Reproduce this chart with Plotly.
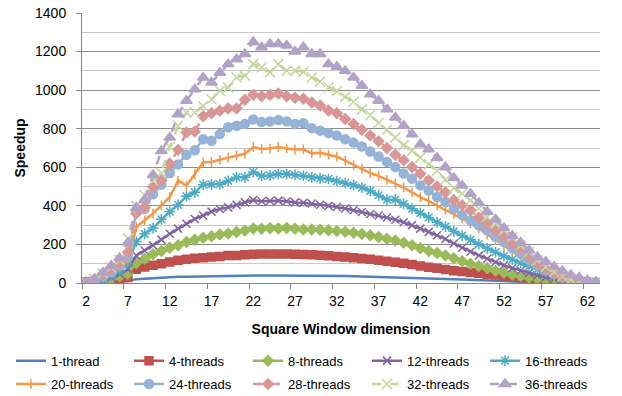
import plotly.graph_objects as go

# Categories (square window dimension 2..63)
dims = list(range(2, 64))
xtick_vals = [2, 7, 12, 17, 22, 27, 32, 37, 42, 47, 52, 57, 62]
xtick_text = ["2", "7", "12", "17", "22", "27", "32", "37", "42", "47", "52", "57", "62"]

thread1 = [1, 2, 4, 6, 8, 10,
           20, 23, 26, 28, 30, 32, 33, 34, 35, 36, 37, 37, 38, 38,
           39, 39, 39, 39, 39, 39, 38, 38, 38, 37,
           37, 36, 35, 34, 33, 32, 31, 30, 29, 28,
           27, 25, 24, 22, 20, 18, 16, 14, 12, 10,
           8, 6, 5, 4, 3, 2, 2, 1, 1, 1, 0, 0]
thread4 = [5, 9, 14, 17, 22, 28,
           71, 83, 92, 100, 109, 118, 123, 128, 131, 135, 138, 142, 143, 147,
           149, 150, 150, 150, 150, 149, 148, 146, 144, 141,
           138, 135, 131, 127, 123, 118, 113, 108, 102, 96,
           88, 82, 76, 70, 64, 60, 55, 50, 46, 42,
           38, 33, 29, 25, 21, 17, 14, 11, 8, 6, 4, 2]
thread8 = [2, 4, 10, 20, 35, 48,
           104, 126, 149, 166, 183, 196, 212, 224, 235, 243, 251, 257, 265, 272,
           283, 281, 284, 282, 285, 281, 278, 278, 276, 273,
           270, 266, 260, 254, 247, 239, 230, 220, 209, 196,
           180, 166, 155, 143, 128, 113, 100, 88, 76, 64,
           53, 44, 36, 29, 22, 17, 13, 9, 6, 4, 2, 1]
thread12 = [2, 6, 15, 30, 48, 72,
            143, 169, 195, 225, 255, 282, 307, 332, 350, 370, 384, 392, 405, 418,
            430, 424, 425, 427, 424, 418, 416, 412, 406, 400,
            394, 386, 377, 368, 358, 350, 340, 328, 315, 300,
            282, 265, 248, 228, 205, 183, 162, 143, 126, 108,
            92, 78, 65, 52, 40, 30, 22, 16, 12, 8, 5, 2]
thread16 = [3, 8, 20, 38, 62, 100,
            215, 255, 285, 330, 370, 405, 450, 470, 510, 512, 512, 530, 548, 548,
            575, 555, 558, 565, 565, 560, 555, 548, 542, 540,
            528, 518, 508, 495, 478, 455, 432, 432, 410, 385,
            362, 340, 315, 292, 268, 246, 224, 202, 180, 160,
            140, 122, 104, 86, 70, 55, 42, 31, 22, 15, 8, 4]
thread20 = [3, 10, 30, 55, 82, 118,
            290, 325, 360, 403, 446, 530, 505, 565, 625, 627, 640, 650, 660, 670,
            705, 695, 697, 705, 697, 692, 693, 672, 675, 665,
            655, 635, 612, 593, 570, 555, 535, 515, 495, 470,
            445, 425, 402, 380, 358, 335, 310, 282, 252, 222,
            193, 163, 135, 108, 83, 60, 40, 28, 17, 10, 5, 2]
thread24 = [3, 15, 35, 57, 92, 135,
            370, 385, 460, 510, 570, 615, 665, 688, 745, 738, 772, 808, 815, 825,
            848, 835, 838, 845, 838, 825, 828, 803, 790, 778,
            765, 745, 728, 708, 682, 656, 628, 601, 568, 541,
            506, 480, 446, 420, 385, 352, 325, 299, 273, 240,
            213, 180, 152, 120, 92, 66, 48, 31, 18, 9, 4, 1]
thread28 = [3, 20, 45, 70, 100, 160,
            360, 394, 498, 532, 619, 690, 780, 785, 865, 880, 893, 905, 905, 950,
            976, 968, 975, 982, 968, 960, 955, 936, 920, 895,
            880, 850, 825, 795, 765, 735, 700, 665, 636, 601,
            567, 532, 500, 470, 430, 403, 377, 338, 308, 273,
            239, 205, 178, 138, 102, 74, 50, 32, 18, 10, 4, 1]
thread32 = [3, 20, 50, 80, 120, 230,
            400, 455, 530, 570, 705, 815, 884, 884, 918, 953, 997, 1014, 1066, 1075,
            1135, 1118, 1092, 1135, 1101, 1101, 1095, 1066, 1045, 1015,
            995, 965, 940, 900, 870, 830, 795, 755, 715, 685,
            650, 615, 582, 535, 492, 463, 429, 385, 342, 308,
            273, 239, 195, 161, 118, 83, 57, 35, 17, 9, 4, 1]
thread36 = [5, 20, 55, 90, 130, 210,
            390, 430, 560, 685, 754, 875, 945, 1005, 1065, 1040, 1090, 1135, 1160, 1187,
            1250, 1222, 1239, 1239, 1232, 1200, 1222, 1187, 1187, 1135,
            1121, 1100, 1066, 1023, 979, 945, 901, 858, 815, 771,
            719, 693, 650, 600, 545, 505, 463, 415, 370, 330,
            285, 245, 210, 170, 135, 110, 85, 62, 42, 28, 15, 5]

names = ["1-thread", "4-threads", "8-threads", "12-threads", "16-threads",
         "20-threads", "24-threads", "28-threads", "32-threads", "36-threads"]
values = [thread1, thread4, thread8, thread12, thread16,
          thread20, thread24, thread28, thread32, thread36]
colors = ["#4F81BD", "#C0504D", "#9BBB59", "#8064A2", "#4BACC6",
          "#F79646", "#95B3D7", "#D99694", "#C3D69B", "#B3A2C7"]
symbols = [None, "square", "diamond", "x-thin-open", "asterisk-open",
           "line-ns-open", "circle", "diamond", "x-thin-open", "triangle-up"]
sizes = [0, 8, 8, 8, 9, 7, 9, 8, 10, 10]
dashes = ["solid"] * 7 + ["dash", "dash", "dash"]

FONT = "Liberation Sans, Arial, sans-serif"

# legend layout: 5 columns x 2 rows (pixel positions of each entry)
col_px = [11, 129, 248, 367, 485]
row_px = [360.7, 384.0]

fig = go.Figure()
legend_layouts = {}
for i, (name, vals, col, sym, sz, dsh) in enumerate(zip(names, values, colors, symbols, sizes, dashes)):
    lg = "legend" if i == 0 else f"legend{i + 1}"
    if sym is None:
        fig.add_trace(go.Scatter(x=dims, y=vals, name=name, mode="lines", legend=lg,
                                 line=dict(color=col, width=2.5, dash=dsh)))
    else:
        fig.add_trace(go.Scatter(x=dims, y=vals, name=name, mode="lines+markers", legend=lg,
                                 line=dict(color=col, width=2.5, dash=dsh),
                                 marker=dict(symbol=sym, size=sz, color=col,
                                             line=dict(color=col, width=1.5))))
    legend_layouts[lg] = dict(orientation="h", xref="container", yref="container",
                              xanchor="left", yanchor="middle",
                              x=col_px[i % 5] / 622, y=1 - row_px[i // 5] / 396,
                              font=dict(family=FONT, size=13, color="#000000"),
                              bgcolor="rgba(0,0,0,0)")

fig.update_layout(
    width=622, height=396, autosize=False,
    margin=dict(l=82, r=22, t=13, b=113, autoexpand=False),
    paper_bgcolor="white", plot_bgcolor="white",
    font=dict(family=FONT, size=14, color="#000000"),
    showlegend=True,
    xaxis=dict(range=[1.5, 63.5], tickmode="array", tickvals=xtick_vals, ticktext=xtick_text,
               showgrid=False, zeroline=False, showline=True, linecolor="#868686", linewidth=1,
               ticks="", tickfont=dict(family=FONT, size=14), ticklabelstandoff=5,
               minor=dict(tick0=1.5, dtick=5, ticks="outside", ticklen=5,
                          tickcolor="#868686", tickwidth=1, showgrid=False),
               title=dict(text="<b>Square Window dimension</b>",
                          font=dict(family=FONT, size=14), standoff=16)),
    yaxis=dict(range=[0, 1400], tick0=0, dtick=200, showgrid=True, gridcolor="#8C8C8C",
               gridwidth=1, zeroline=False, showline=True, linecolor="#868686", linewidth=1,
               ticks="outside", ticklen=5, tickcolor="#868686", tickwidth=1,
               tickfont=dict(family=FONT, size=14), ticklabelstandoff=7,
               minor=dict(dtick=100, showgrid=True, gridcolor="#C8C8C8", gridwidth=1, ticks=""),
               title=dict(text="<b>Speedup</b>", font=dict(family=FONT, size=14), standoff=6)),
    **legend_layouts,
)

fig.write_html("out.html")
